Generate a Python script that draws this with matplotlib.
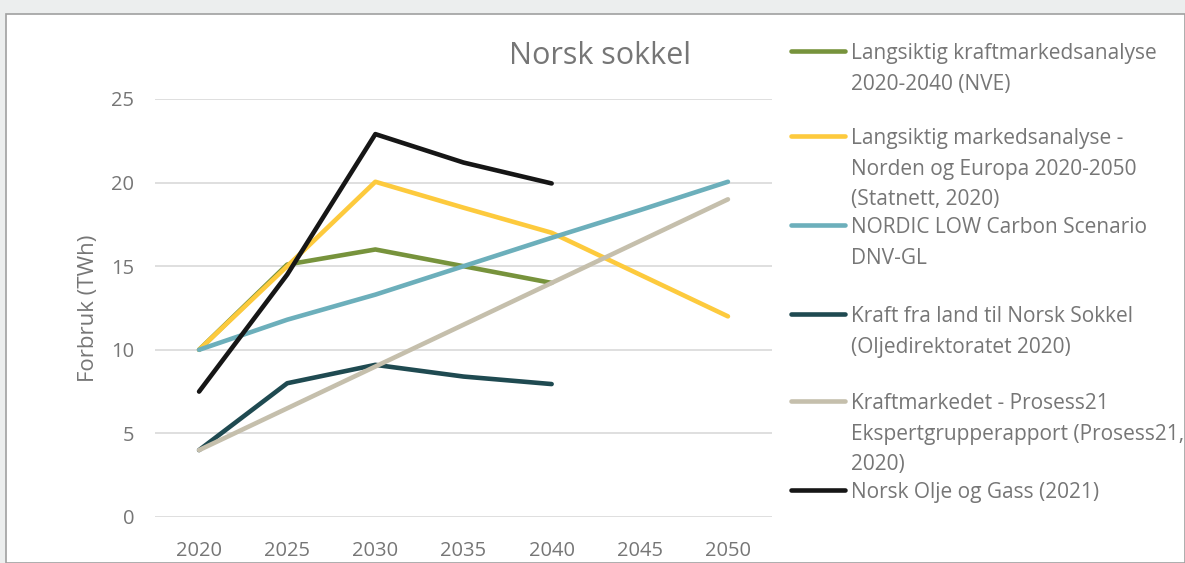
import numpy as np
import matplotlib
matplotlib.use("Agg")
import matplotlib.pyplot as plt
from matplotlib.patches import Rectangle
from matplotlib.lines import Line2D

years = ["2020", "2025", "2030", "2035", "2040", "2045", "2050"]

nve = [10, 15.1, 16.0, 15.0, 14.0, None, None]
statnett = [10, 15.0, 20.05, 18.5, 17.0, 14.5, 12.0]
dnv = [10, 11.8, 13.3, 15.0, 16.7, 18.35, 20.05]
od = [4, 8.0, 9.1, 8.4, 7.95, None, None]
prosess21 = [4, 6.5, 9.0, 11.5, 14.0, 16.5, 19.0]
nog = [7.5, 14.5, 22.9, 21.2, 19.95, None, None]

labels = [
    "Langsiktig kraftmarkedsanalyse\n2020-2040 (NVE)",
    "Langsiktig markedsanalyse -\nNorden og Europa 2020-2050\n(Statnett, 2020)",
    "NORDIC LOW Carbon Scenario\nDNV-GL",
    "Kraft fra land til Norsk Sokkel\n(Oljedirektoratet 2020)",
    "Kraftmarkedet - Prosess21\nEkspertgrupperapport (Prosess21,\n2020)",
    "Norsk Olje og Gass (2021)",
]
series = [nve, statnett, dnv, od, prosess21, nog]
colors = ["#77933c", "#fdca3d", "#6cafbb", "#1f4a51", "#c5bfac", "#161616"]

plt.rcParams['font.family'] = ['Open Sans', 'DejaVu Sans']
grey = "#767676"

W, H = 1185, 563
fig = plt.figure(figsize=(W / 100, H / 100), dpi=100, facecolor="#eceeee")
# white chart panel with thin grey border
fig.patches.append(Rectangle((6 / W, 0), 1 - 6 / W, (H - 14) / H, transform=fig.transFigure,
                             facecolor="white", edgecolor="#a0a0a0", linewidth=1.2, zorder=-10))

ax = fig.add_axes([155 / W, (H - 517) / H, (772 - 155) / W, (517 - 99) / H])
ax.set_facecolor("none")
ax.set_zorder(2)

x = np.arange(len(years))
for vals, c in zip(series, colors):
    v = np.array([np.nan if a is None else a for a in vals], dtype=float)
    ax.plot(x, v, color=c, linewidth=3.3, solid_capstyle='round', solid_joinstyle='round', zorder=3)

ax.set_xlim(-0.5, len(years) - 0.5)
ax.set_ylim(0, 25)
ax.set_yticks([0, 5, 10, 15, 20, 25])
ax.set_xticks(x)
ax.set_xticklabels(years)
ax.grid(axis='y', color="#d9d9d9", linewidth=1.2)
ax.set_axisbelow(True)
for s in ax.spines.values():
    s.set_visible(False)
ax.tick_params(length=0, labelsize=14.5, colors=grey)
ax.tick_params(axis='y', pad=15)
ax.tick_params(axis='x', pad=17)
ax.set_ylabel("Forbruk (TWh)", fontsize=16, color=grey)
ax.yaxis.label.set_va('center')
ax.yaxis.set_label_coords((88 - 155) / (772 - 155), 0.5)

fig.text(600 / W, (H - 56) / H, "Norsk sokkel", fontsize=22, color=grey, ha='center', va='center')

# legend
entry_y = [51, 136, 225, 314, 401, 490]
for lab, c, yy in zip(labels, colors, entry_y):
    fy = (H - yy) / H
    fig.add_artist(Line2D([791 / W, 845 / W], [fy, fy], transform=fig.transFigure,
                          color=c, linewidth=3.3, solid_capstyle='round'))
    fig.text(851 / W, (H - yy + 8) / H, lab, fontsize=15, color=grey, ha='left', va='top',
             linespacing=1.6)

fig.savefig("out.png", dpi=100, facecolor=fig.get_facecolor())
